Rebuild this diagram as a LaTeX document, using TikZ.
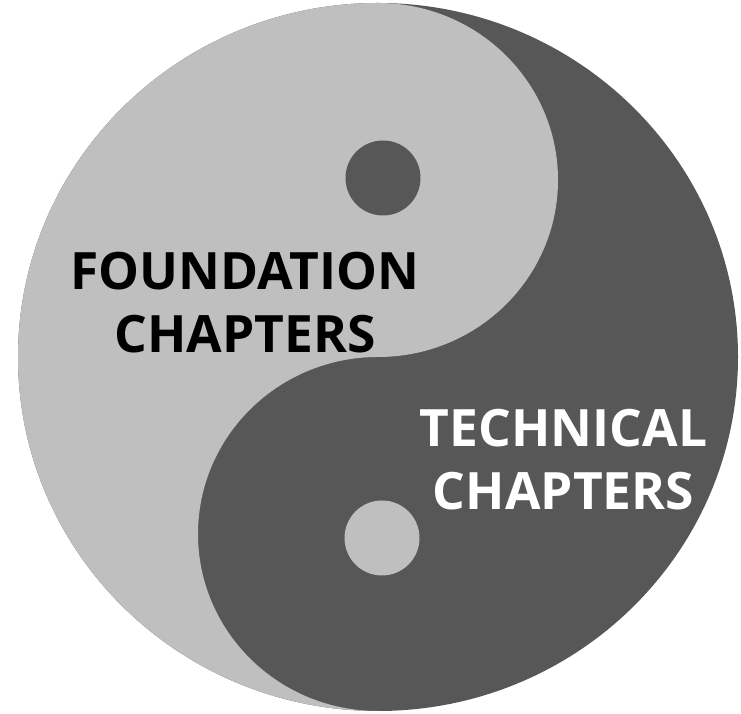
\documentclass[tikz,border=0pt]{standalone}
\usepackage{fontspec}
\newfontfamily\osfont{Open Sans}
\definecolor{yinlight}{gray}{0.75}
\definecolor{yindark}{gray}{0.34}
\tikzset{
  label/.style={font=\osfont\bfseries\fontsize{51.5}{63.5}\selectfont, align=center, inner sep=0pt, anchor=base},
}
\begin{document}
\begin{tikzpicture}[x=1pt,y=1pt]
\fill[white] (0,0) rectangle (741,714);
\useasboundingbox (0,0) rectangle (741,714);
\begin{scope}[shift={(378,357)}, xscale=360, yscale=354]
  \fill[yindark] (0,0) circle[radius=1];
  \fill[yinlight] (0,1) arc[start angle=90, end angle=270, radius=1]
    arc[start angle=270, end angle=90, radius=0.5]
    arc[start angle=-90, end angle=90, radius=0.5] -- cycle;
\end{scope}
\fill[yindark] (383,536) circle[radius=37.5];
\fill[yinlight] (382,176) circle[radius=37.5];
\node[label, text=black] (found) at (245,361) {FOUNDATION\\CHAPTERS};
\node[label, text=white] (tech) at (563.5,204) {TECHNICAL\\CHAPTERS};
\end{tikzpicture}
\end{document}
